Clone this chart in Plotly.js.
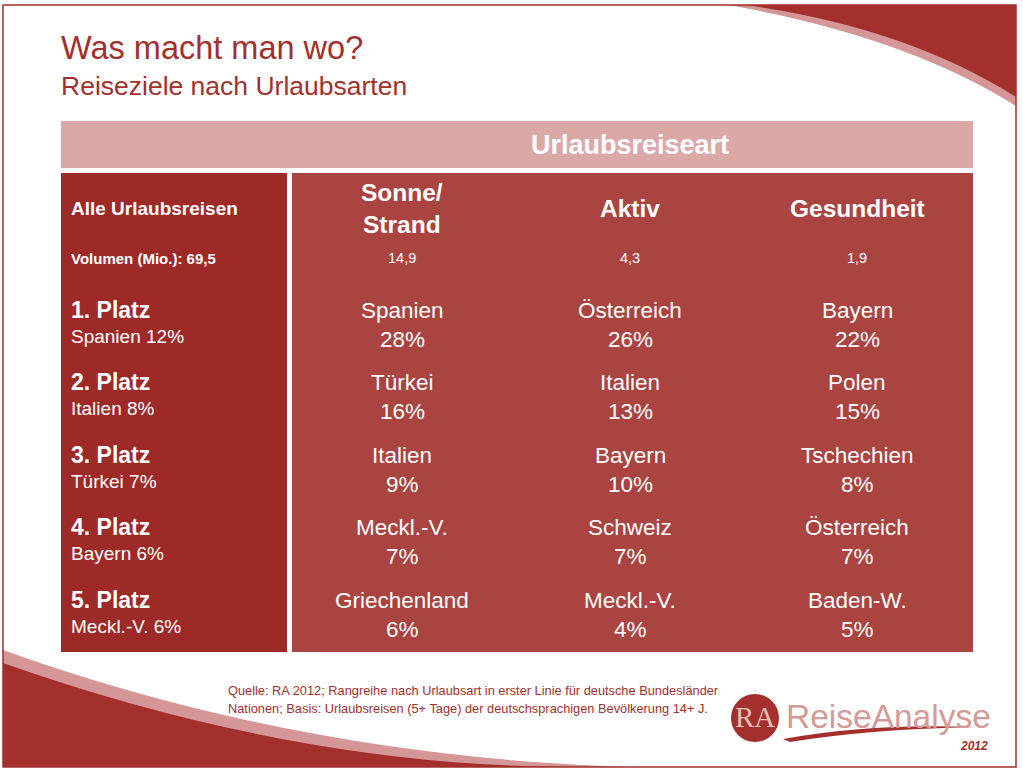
<!DOCTYPE html>
<html>
<head>
<meta charset="utf-8">
<script src="https://cdn.plot.ly/plotly-3.0.1.min.js"></script>
<style>html,body{margin:0;padding:0;background:#fff;}#chart{width:1023px;height:772px;}</style>
</head>
<body>
<div id="chart"></div>
<script>
// ---- data ----
const title = "Was macht man wo?";
const subtitle = "Reiseziele nach Urlaubsarten";
const groupHeader = "Urlaubsreiseart";
const totalLabel = "Alle Urlaubsreisen";
const totalVolumeLabel = "Volumen (Mio.): 69,5";
const categories = ["Sonne/<br>Strand", "Aktiv", "Gesundheit"];
const volumes = ["14,9", "4,3", "1,9"];
const ranks = ["1. Platz", "2. Platz", "3. Platz", "4. Platz", "5. Platz"];
const overallDest = ["Spanien 12%", "Italien 8%", "Türkei 7%", "Bayern 6%", "Meckl.-V. 6%"];
const sonneDest = ["Spanien", "Türkei", "Italien", "Meckl.-V.", "Griechenland"];
const sonnePct = [28, 16, 9, 7, 6];
const aktivDest = ["Österreich", "Italien", "Bayern", "Schweiz", "Meckl.-V."];
const aktivPct = [26, 13, 10, 7, 4];
const gesundDest = ["Bayern", "Polen", "Tschechien", "Österreich", "Baden-W."];
const gesundPct = [22, 15, 8, 7, 5];
const sourceLines = [
  "Quelle: RA 2012; Rangreihe nach Urlaubsart in erster Linie für deutsche Bundesländer",
  "Nationen; Basis: Urlaubsreisen (5+ Tage) der deutschsprachigen Bevölkerung 14+ J."
];

// ---- layout helpers ----
const F = "Liberation Sans, Arial, Helvetica, sans-serif";
const RED = "#a3302c";
const colX = [402, 630, 857];
const rowY = [310, 382, 455, 527, 600];
const row2 = 29;
const ann = [];
function t(x, y, text, size, color, opts) {
  ann.push(Object.assign({x: x, y: y, xref: "x", yref: "y", text: text, showarrow: false,
    borderpad: 0, borderwidth: 0,
    font: {family: F, size: size, color: color}, xanchor: "center", yanchor: "middle"}, opts || {}));
}

t(61, 48, title, 32.5, RED, {xanchor: "left"});
t(61, 86, subtitle, 26.5, RED, {xanchor: "left"});
t(630, 145, "<b>" + groupHeader + "</b>", 27, "#fff");
t(71, 208, "<b>" + totalLabel + "</b>", 19, "#fff", {xanchor: "left"});
t(71, 258, "<b>" + totalVolumeLabel + "</b>", 15, "#fff", {xanchor: "left"});
categories.forEach((c, i) => {
  t(colX[i], 208, "<b>" + c + "</b>", 24.5, "#fff");
  t(colX[i], 258, volumes[i], 14.5, "#fff");
});
const dests = [sonneDest, aktivDest, gesundDest];
const pcts = [sonnePct, aktivPct, gesundPct];
ranks.forEach((r, j) => {
  t(71, rowY[j], "<b>" + r + "</b>", 23, "#fff", {xanchor: "left"});
  t(71, rowY[j] + 26, overallDest[j], 19, "#fff", {xanchor: "left"});
  for (let i = 0; i < 3; i++) {
    t(colX[i], rowY[j], dests[i][j], 22.5, "#fff");
    t(colX[i], rowY[j] + row2, pcts[i][j] + "%", 22.5, "#fff");
  }
});
sourceLines.forEach((s, k) => t(228, 690 + k * 18, s, 12.8, RED, {xanchor: "left"}));
// logo texts
t(755, 717, "RA", 29, "#e8bcba", {font: {family: "Liberation Serif, DejaVu Serif, serif", size: 29, color: "#e8bcba"}});
t(786, 716, "ReiseAnalyse", 33.5, "#d49a98", {xanchor: "left"});
t(988, 746, "<i><b>2012</b></i>", 12, RED, {xanchor: "right"});

const shapes = [
  // bottom-left swoosh
  {type: "path", path: "M 3 650 Q 300 757 630 767 L 3 767 Z", fillcolor: "#d49696", line: {width: 0}, layer: "below"},
  {type: "path", path: "M 3 663 Q 300 768 580 767 L 3 767 Z", fillcolor: RED, line: {width: 0}, layer: "below"},
  // top-right swoosh
  {type: "path", path: "M 728 5 Q 905 36 1016 106 L 1016 5 Z", fillcolor: "#d49696", line: {width: 0}, layer: "below"},
  {type: "path", path: "M 745 5 Q 905 27 1016 97 L 1016 5 Z", fillcolor: RED, line: {width: 0}, layer: "below"},
  // outer frame
  {type: "rect", x0: 3, x1: 1016, y0: 5, y1: 767, line: {color: RED, width: 1.5}, fillcolor: "rgba(0,0,0,0)", layer: "below"},
  // table blocks
  {type: "rect", x0: 61, x1: 973, y0: 121, y1: 168, fillcolor: "#dba8a8", line: {width: 0}, layer: "below"},
  {type: "rect", x0: 61, x1: 287, y0: 173, y1: 652, fillcolor: "#9e2a28", line: {width: 0}, layer: "below"},
  {type: "rect", x0: 292, x1: 973, y0: 173, y1: 652, fillcolor: "#a94441", line: {width: 0}, layer: "below"},
  // logo
  {type: "circle", x0: 731, x1: 779, y0: 694, y1: 742, fillcolor: RED, line: {width: 0}, layer: "below"},
  {type: "path", path: "M 783 739 Q 870 723 976 727 Q 870 729 790 742 Z", fillcolor: RED, line: {width: 0}, layer: "below"}
];

const layout = {
  width: 1023, height: 772,
  margin: {l: 0, r: 0, t: 0, b: 0},
  paper_bgcolor: "#fff", plot_bgcolor: "#fff",
  xaxis: {range: [0, 1023], visible: false, fixedrange: true},
  yaxis: {range: [772, 0], visible: false, fixedrange: true},
  showlegend: false,
  shapes: shapes,
  annotations: ann
};
Plotly.newPlot("chart", [{x: [], y: [], type: "scatter"}], layout, {displayModeBar: false, staticPlot: true});
</script>
</body>
</html>
